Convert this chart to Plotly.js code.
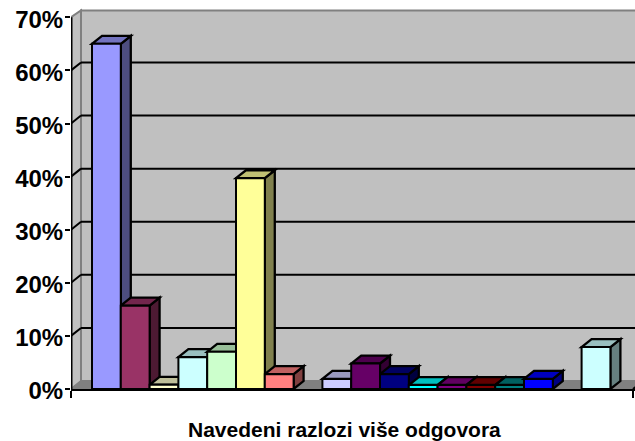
<!DOCTYPE html>
<html><head><meta charset="utf-8">
<script src="https://cdn.plot.ly/plotly-3.0.1.min.js"></script>
<style>html,body{margin:0;padding:0;background:#fff}</style></head>
<body><div id="chart" style="width:635px;height:441px"></div>
<script>
var slots  = [1,2,3,4,5,6,7,9,10,11,12,13,14,15,16,18];
var values = [65,15.7,0.8,6,7,39.7,2.8,1.9,4.8,2.8,0.75,0.75,0.75,0.75,1.9,7.9];
var colors = ['#9999FF','#993366','#FFFFCC','#CCFFFF','#CCFFCC','#FFFF99','#FF8080','#CCCCFF','#660066','#000080','#00FFFF','#800080','#800000','#008080','#0000FF','#CCFFFF'];
var yTicks = [0,10,20,30,40,50,60,70];
var titleText = 'Navedeni razlozi više odgovora';

var xLeft = -0.229, xRight = 19.354, xTickR = 19.285, yTop = 71.94, wallTop = 71.3;
var dx = 0.347, dy = 1.5, halfW = 0.5;

function shade(hex, f){
  var n = parseInt(hex.slice(1),16);
  return 'rgb('+[(n>>16)&255,(n>>8)&255,n&255].map(function(c){return Math.round(c*f);}).join(',')+')';
}
function poly(pts, fill, line, w){
  return {type:'path', layer:'between', xref:'x', yref:'y',
    path:'M'+pts.map(function(p){return p[0]+','+p[1];}).join('L')+'Z',
    fillcolor:fill, line:{color:line, width:w}};
}
function seg(x0,y0,x1,y1,c,w){
  return {type:'line', layer:'between', xref:'x', yref:'y', x0:x0,y0:y0,x1:x1,y1:y1, line:{color:c,width:w}};
}
var shapes = [];
// walls and floor
shapes.push(poly([[xLeft+dx,dy],[xRight+1,dy],[xRight+1,wallTop],[xLeft+dx,wallTop]],'#C0C0C0','#808080',2));
shapes.push(poly([[xLeft,0],[xLeft+dx,dy],[xLeft+dx,wallTop],[xLeft,70]],'#C0C0C0','#808080',2));
shapes.push(poly([[xLeft,0],[xLeft+dx,dy],[xRight+1,dy],[xRight+1,0]],'#808080','#808080',1));
// gridlines on the wall and the depth stubs
yTicks.forEach(function(v){
  if(v>0 && v<70) shapes.push(seg(xLeft+dx,v+dy,xRight,v+dy,'#000',2));
  if(v>0 && v<70) shapes.push(seg(xLeft,v,xLeft+dx,v+dy,'#000',2));
});
shapes.push(seg(xTickR,0,xTickR+dx*0.4,dy*0.4,'#000',2));
// bar depth faces
slots.forEach(function(s,i){
  var v = values[i], l = s-halfW, r = s+halfW;
  shapes.push(poly([[r,0],[r+dx,dy],[r+dx,v+dy],[r,v]],shade(colors[i],0.5),'#000',2.3));
  shapes.push(poly([[l,v],[r,v],[r+dx,v+dy],[l+dx,v+dy]],shade(colors[i],0.75),'#000',2.3));
});
// value axis line, stops at the top tick
shapes.push({type:'line', layer:'above', xref:'x', yref:'y', x0:xLeft, x1:xLeft, y0:0, y1:70, line:{color:'#000',width:3}});

var traces = slots.map(function(s,i){
  return {type:'bar', x:[s], y:[values[i]], width:1, name:String(s),
    marker:{color:colors[i], line:{color:'#000',width:2}}, hoverinfo:'y', cliponaxis:false};
});

var layout = {
  width:635, height:441, showlegend:false, barmode:'overlay',
  paper_bgcolor:'#fff', plot_bgcolor:'#fff',
  margin:{l:71,r:0,t:7,b:52,pad:0},
  font:{family:'"Liberation Sans",Arial,sans-serif',color:'#000'},
  xaxis:{range:[xLeft,xRight], tickmode:'array', tickvals:[xLeft,xTickR], ticktext:['',''],
    ticks:'outside', ticklen:7, tickwidth:2, tickcolor:'#000', showgrid:false, zeroline:false,
    showline:true, linecolor:'#000', linewidth:2},
  yaxis:{range:[0,yTop], tickmode:'array', tickvals:yTicks, ticktext:yTicks.map(function(v){return '<b>'+v+'%</b>';}),
    ticks:'outside', ticklen:5, tickwidth:2, tickcolor:'#000', showgrid:false, zeroline:false,
    showline:false, tickfont:{size:24,color:'#000'}, ticklabelstandoff:-3, ticklabelshift:2},
  annotations:[{text:'<b>'+titleText+'</b>', xref:'paper', yref:'paper', x:0.4858, y:-0.107,
    xanchor:'center', yanchor:'middle', showarrow:false, font:{size:21,color:'#000'}}],
  shapes:shapes
};
Plotly.newPlot('chart',traces,layout,{displayModeBar:false,staticPlot:true});
</script></body></html>
